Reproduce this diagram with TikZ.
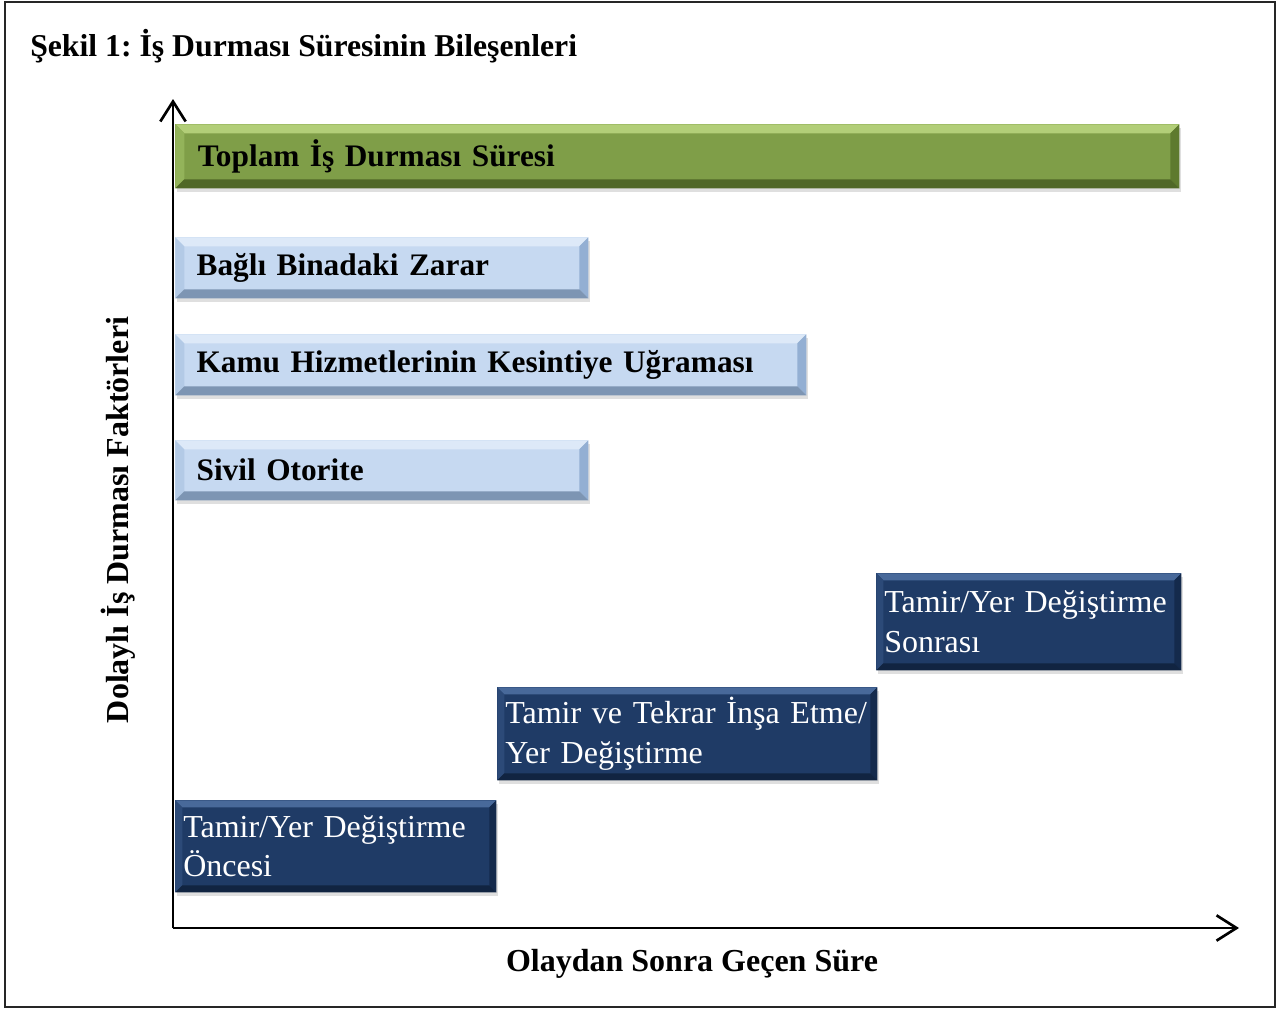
\documentclass[tikz,border=0pt]{standalone}
\usepackage{fontspec}
\setmainfont{Liberation Serif}
\frenchspacing
\usetikzlibrary{arrows.meta,calc,shadows}
\definecolor{grmid}{HTML}{7F9E48}
\definecolor{grlight}{HTML}{B2CE78}
\definecolor{grside}{HTML}{93B35A}
\definecolor{grdark}{HTML}{5E7A2E}
\definecolor{lbmid}{HTML}{C6D9F1}
\definecolor{lblight}{HTML}{DDE9F8}
\definecolor{lbside}{HTML}{B3CAE6}
\definecolor{lbdark}{HTML}{93AFD3}
\definecolor{dbmid}{HTML}{1F3B66}
\definecolor{dblight}{HTML}{48699A}
\definecolor{dbside}{HTML}{2C4A78}
\definecolor{dbdark}{HTML}{142A4C}
\newcommand\bevelit[4]{%
  \fill[#2] (path picture bounding box.north west) -- (path picture bounding box.north east) -- ($(path picture bounding box.north east)+(-#1,#1)$) -- ($(path picture bounding box.north west)+(#1,#1)$) -- cycle;
  \fill[#3] (path picture bounding box.north west) -- ($(path picture bounding box.north west)+(#1,#1)$) -- ($(path picture bounding box.south west)+(#1,-#1)$) -- (path picture bounding box.south west) -- cycle;
  \fill[#4] (path picture bounding box.north east) -- ($(path picture bounding box.north east)+(-#1,#1)$) -- ($(path picture bounding box.south east)+(-#1,-#1)$) -- (path picture bounding box.south east) -- cycle;
  \fill[#4!85!black] (path picture bounding box.south west) -- ($(path picture bounding box.south west)+(#1,-#1)$) -- ($(path picture bounding box.south east)+(-#1,-#1)$) -- (path picture bounding box.south east) -- cycle;
}
\tikzset{
  x=0.75pt, y=-0.75pt,
  basebox/.style={anchor=north west, inner ysep=0pt, align=left,
    drop shadow={opacity=0.25, shadow xshift=1pt, shadow yshift=-2.5pt}},
  greenbar/.style={basebox, fill=grmid, inner xsep=17pt, font=\fontsize{23.5}{28}\selectfont\bfseries,
    path picture={\bevelit{9}{grlight}{grside}{grdark}}},
  bluebar/.style={basebox, fill=lbmid, inner xsep=16pt, font=\fontsize{23.5}{28}\selectfont\bfseries,
    path picture={\bevelit{9}{lblight}{lbside}{lbdark}}},
  darkbox/.style={basebox, fill=dbmid, inner xsep=6pt, text=white, font=\fontsize{24}{29.5}\selectfont,
    path picture={\bevelit{7}{dblight}{dbside}{dbdark}}},
  axis/.style={line width=2pt, -{Straight Barb[length=15pt,width=19pt,line width=2pt]}},
  axlabel/.style={font=\fontsize{24}{28}\selectfont\bfseries},
}
\begin{document}
\begin{tikzpicture}
\useasboundingbox (0,0) rectangle (1279,1010);
\draw[line width=1.6pt, black!85] (5,2) rectangle (1275,1007);
\node[anchor=west, font=\fontsize{23.8}{28}\selectfont\bfseries, inner sep=0pt] (title) at (30,46) {Şekil 1: İş Durması Süresinin Bileşenleri};

% bars
\node[greenbar, minimum width=753pt, minimum height=48pt, text width=719pt] (total) at (175,124) {Toplam İş Durması Süresi};
\node[bluebar, minimum width=309.75pt, minimum height=45.75pt, text width=277.75pt] (bagli) at (175,237) {Bağlı Binadaki Zarar};
\node[bluebar, minimum width=473.25pt, minimum height=45.75pt, text width=441.25pt] (kamu) at (175,334) {Kamu Hizmetlerinin Kesintiye Uğraması};
\node[bluebar, minimum width=309.75pt, minimum height=45pt, text width=277.75pt] (sivil) at (175,440) {Sivil Otorite};

% dark boxes
\node[darkbox, minimum width=228.75pt, minimum height=72.75pt, text width=216.75pt] (sonra) at (876,573) {Tamir/Yer Değiştirme\\Sonrası};
\node[darkbox, minimum width=285pt, minimum height=69.75pt, text width=273pt] (insa) at (497,687) {Tamir ve Tekrar İnşa Etme/\\Yer Değiştirme};
\node[darkbox, minimum width=240.75pt, minimum height=69pt, text width=228.75pt] (once) at (175,800) {Tamir/Yer Değiştirme\\Öncesi};

% axes
\coordinate (origin) at (173,928);
\coordinate (ytop) at (173,99);
\coordinate (xend) at (1239,928);
\draw[axis] (origin) -- (ytop);
\draw[axis] (origin) -- (xend);
\node[axlabel] (xlab) at (692,964) {Olaydan Sonra Geçen Süre};
\node[axlabel, rotate=90] (ylab) at (118,520) {Dolaylı İş Durması Faktörleri};
\end{tikzpicture}
\end{document}
